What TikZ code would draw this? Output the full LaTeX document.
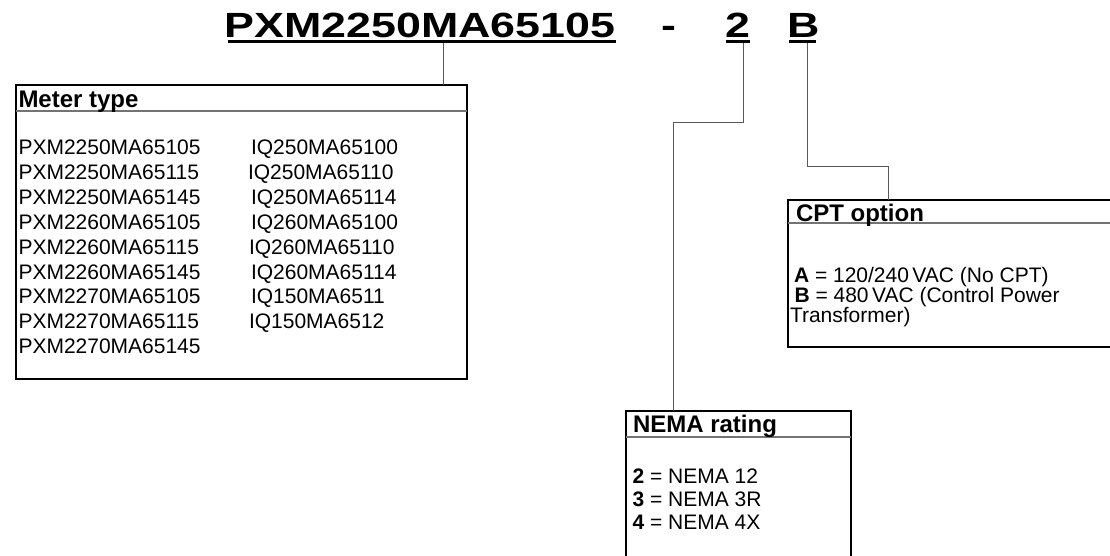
\documentclass[tikz,border=0pt]{standalone}
\usepackage{fontspec}
\setmainfont{Liberation Sans}
\newfontfamily\titlefont{Liberation Sans}[FakeStretch=1.28]
\usetikzlibrary{calc}
\begin{document}
\begin{tikzpicture}[x=1pt,y=-1pt,
  txt/.style={inner sep=0pt, outer sep=0pt, anchor=base west, font=\fontsize{21}{25}\selectfont},
  hdr/.style={inner sep=0pt, outer sep=0pt, anchor=base west, font=\bfseries\fontsize{24}{28}\selectfont},
  ttl/.style={inner sep=0pt, outer sep=0pt, anchor=base west, font=\titlefont\bfseries\fontsize{35}{40}\selectfont},
  box/.style={draw=black, line width=2pt, rectangle, inner sep=0pt, outer sep=0pt, anchor=north west},
  sepline/.style={draw=black!55, line width=1.2pt},
  conn/.style={draw=black!65, line width=1pt},
  uline/.style={draw=black, line width=3pt}]
\useasboundingbox (0,0) rectangle (1110,556);
\clip (0,0) rectangle (1110,556);

% title
\node[ttl] (t1) at (224.6,38) {PXM2250MA65105};
\node[ttl] (tdash) at (661,38) {-};
\node[ttl] (t2) at (725.5,38) {2};
\node[ttl] (tB) at (787,38) {B};
\draw[uline] ($(t1.base west)+(3,3.5)$) -- ($(t1.base east)+(0,3.5)$);
\draw[uline] ($(t2.base west)+(0,3.5)$) -- ($(t2.base east)+(0,3.5)$);
\draw[uline] ($(tB.base west)+(2,3.5)$) -- ($(tB.base east)+(-3,3.5)$);

% boxes
\node[box, minimum width=451pt, minimum height=294pt] (meter) at (16,85) {};
\node[box, minimum width=337pt, minimum height=147pt] (cpt) at (788,200) {};
\node[box, minimum width=225pt, minimum height=160pt] (nema) at (626,411) {};
\draw[sepline] ($(meter.north west)+(0,26)$) -- ($(meter.north east)+(0,26)$);
\draw[sepline] ($(cpt.north west)+(0,23)$) -- ($(cpt.north east)+(0,23)$);
\draw[sepline] ($(nema.north west)+(0,26)$) -- ($(nema.north east)+(0,26)$);

% connectors
\coordinate (m1) at (443,43.5);
\draw[conn] (m1) -- (m1 |- meter.north);
\coordinate (m2) at (743,43.5);
\coordinate (n2) at (673,123);
\draw[conn] (m2) |- (n2) -- (n2 |- nema.north);
\coordinate (m3) at (807,43.5);
\coordinate (c3) at (888,167);
\draw[conn] (m3) |- (c3) -- (c3 |- cpt.north);

% meter type
\node[hdr] (mh) at (18.5,108) {Meter type};
\foreach \a/\b/\bx [count=\i from 0] in {PXM2250MA65105/IQ250MA65100/251,
  PXM2250MA65115/IQ250MA65110/248, PXM2250MA65145/IQ250MA65114/251,
  PXM2260MA65105/IQ260MA65100/251, PXM2260MA65115/IQ260MA65110/249,
  PXM2260MA65145/IQ260MA65114/251, PXM2270MA65105/IQ150MA6511/251,
  PXM2270MA65115/IQ150MA6512/249} {
  \node[txt] (ml\i) at (18.5,{155+24.8*\i}) {\a};
  \node[txt] (mr\i) at (\bx,{155+24.8*\i}) {\b};
}
\node[txt] (ml8) at (18.5,353.4) {PXM2270MA65145};

% CPT option
\node[hdr] (ch) at (796,222) {CPT option};
\node[txt] (ca) at (794,282) {\textbf{A} = 120/240\,VAC (No CPT)};
\node[txt] (cb) at (794.5,302) {\textbf{B} = 480\,VAC (Control Power};
\node[txt] (cc) at (790,322) {Transformer)};

% NEMA rating
\node[hdr] (nh) at (633,432) {NEMA rating};
\node[txt] (n2t) at (632.5,483) {\textbf{2} = NEMA 12};
\node[txt] (n3t) at (632.5,506) {\textbf{3} = NEMA 3R};
\node[txt] (n4t) at (632.5,529) {\textbf{4} = NEMA 4X};
\end{tikzpicture}
\end{document}
